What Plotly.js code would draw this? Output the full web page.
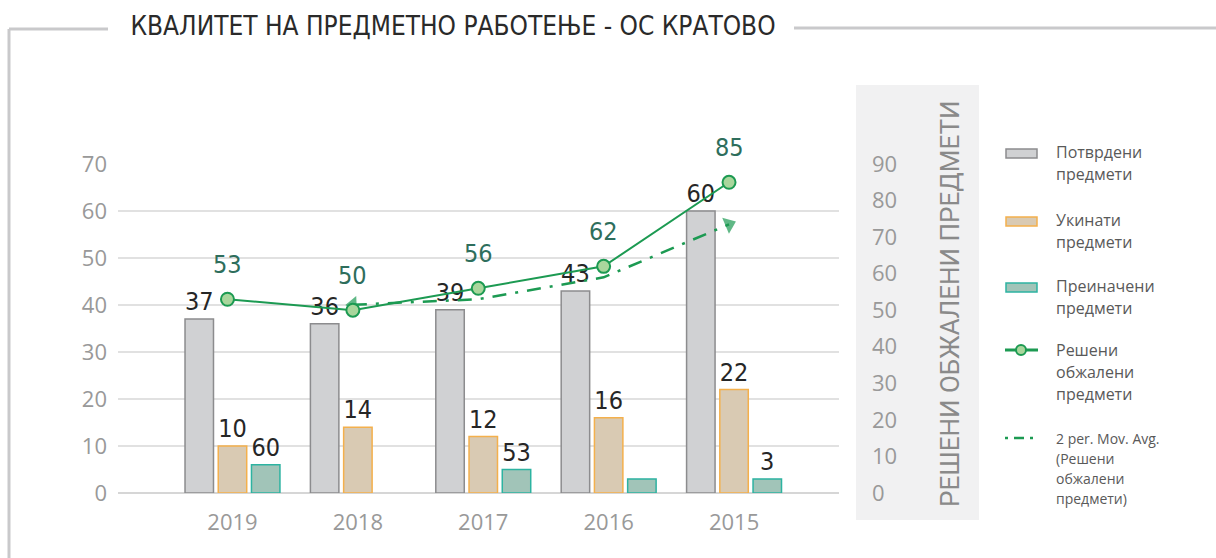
<!DOCTYPE html>
<html><head><meta charset="utf-8">
<script src="https://cdn.plot.ly/plotly-3.0.1.min.js"></script>
<style>html,body{margin:0;padding:0;background:#fff}#chart{width:1216px;height:558px}</style>
</head><body><div id="chart"></div>
<script>
// ---- data ----
const years = ["2019", "2018", "2017", "2016", "2015"];
const potvrdeni = [37, 36, 39, 43, 60];
const ukinati = [10, 14, 12, 16, 22];
const preinacheni = [6, null, 5, 3, 3];
const preinacheniLabels = ["60", "", "53", "", "3"];
const resheni = [53, 50, 56, 62, 85];
const movAvg = [null, 51.5, 53, 59, 73.5];
const leftTicks = [0, 10, 20, 30, 40, 50, 60, 70];
const rightTicks = [0, 10, 20, 30, 40, 50, 60, 70, 80, 90];
const chartTitle = "КВАЛИТЕТ НА ПРЕДМЕТНО РАБОТЕЊЕ - ОС КРАТОВО";
const rightTitle = "РЕШЕНИ ОБЖАЛЕНИ ПРЕДМЕТИ";
const legendNames = [
  ["Потврдени", "предмети"],
  ["Укинати", "предмети"],
  ["Преиначени", "предмети"],
  ["Решени", "обжалени", "предмети"],
  ["2 per. Mov. Avg.", "(Решени", "обжалени", "предмети)"]
];

// ---- styling ----
const NARROW = "Liberation Sans Narrow, DejaVu Sans Condensed, sans-serif";
const SANS = "Open Sans, Noto Sans, sans-serif";
const GREEN = "#1c9a52";
const L = 118, R = 869, GRID_END = 839, T = 164, B = 493;
const X = px => (px - L) / (R - L);
const Y = py => (B - py) / (B - T);
const XD = X(GRID_END);

const barText = {family: NARROW, size: 25, color: "#262626"};

const traces = [
  {type: "bar", x: years, y: potvrdeni, name: legendNames[0].join(" "),
   marker: {color: "#d0d1d3", line: {color: "#8c8c8e", width: 1.5}},
   text: potvrdeni.map(String), textposition: "outside", textfont: barText,
   constraintext: "none", cliponaxis: false, showlegend: false, hoverinfo: "skip"},
  {type: "bar", x: years, y: ukinati, name: legendNames[1].join(" "),
   marker: {color: "#d9cab3", line: {color: "#f4b04c", width: 1.5}},
   text: ukinati.map(String), textposition: "outside", textfont: barText,
   constraintext: "none", cliponaxis: false, showlegend: false, hoverinfo: "skip"},
  {type: "bar", x: years, y: preinacheni, name: legendNames[2].join(" "),
   marker: {color: "#a1c4b8", line: {color: "#2db3a1", width: 1.5}},
   text: preinacheniLabels, textposition: "outside", textfont: barText,
   constraintext: "none", cliponaxis: false, showlegend: false, hoverinfo: "skip"},
  {type: "scatter", mode: "lines", x: years, y: movAvg, xaxis: "x2", yaxis: "y2",
   name: legendNames[4].join(" "),
   line: {color: GREEN, width: 2.5, dash: "14px,9px,3px,9px"},
   cliponaxis: false, showlegend: false, hoverinfo: "skip", connectgaps: false},
  // arrowhead at end
  {type: "scatter", mode: "markers", x: years.slice(3), y: movAvg.slice(3), xaxis: "x2", yaxis: "y2",
   marker: {symbol: "triangle-up", angleref: "previous", size: [0, 15], color: GREEN, line: {width: 0}},
   cliponaxis: false, showlegend: false, hoverinfo: "skip"},
  // arrowhead at start
  {type: "scatter", mode: "markers", x: years.slice(1, 3).reverse(), y: movAvg.slice(1, 3).reverse(), xaxis: "x2", yaxis: "y2",
   marker: {symbol: "triangle-up", angleref: "previous", size: [0, 15], color: GREEN, line: {width: 0}},
   cliponaxis: false, showlegend: false, hoverinfo: "skip"},
  {type: "scatter", mode: "lines+markers", x: years, y: resheni, xaxis: "x2", yaxis: "y2",
   name: legendNames[3].join(" "),
   line: {color: GREEN, width: 2},
   marker: {size: 13, color: "#a9d69c", line: {color: GREEN, width: 2}},
   cliponaxis: false, showlegend: false, hoverinfo: "skip"}
];

const shapes = [
  // grey panel behind right axis
  {type: "rect", xref: "paper", yref: "paper", x0: X(856), x1: X(979), y0: Y(520), y1: Y(85),
   fillcolor: "#f1f1f2", line: {width: 0}, layer: "below"},
  // frame
  {type: "line", xref: "paper", yref: "paper", x0: X(9), x1: X(9), y0: Y(29), y1: Y(570), line: {color: "#c9c9cb", width: 3}},
  {type: "line", xref: "paper", yref: "paper", x0: X(9), x1: X(108), y0: Y(29), y1: Y(29), line: {color: "#c9c9cb", width: 3}},
  {type: "line", xref: "paper", yref: "paper", x0: X(794), x1: X(1220), y0: Y(28), y1: Y(28), line: {color: "#c9c9cb", width: 3}},
  // legend symbols
  {type: "rect", xref: "paper", yref: "paper", x0: X(1006), x1: X(1037), y0: Y(158), y1: Y(149),
   fillcolor: "#d0d1d3", line: {color: "#8c8c8e", width: 1.5}},
  {type: "rect", xref: "paper", yref: "paper", x0: X(1006), x1: X(1037), y0: Y(226), y1: Y(217),
   fillcolor: "#d9cab3", line: {color: "#f4b04c", width: 1.5}},
  {type: "rect", xref: "paper", yref: "paper", x0: X(1006), x1: X(1037), y0: Y(292), y1: Y(283),
   fillcolor: "#a1c4b8", line: {color: "#2db3a1", width: 1.5}},
  {type: "line", xref: "paper", yref: "paper", x0: X(1005), x1: X(1038), y0: Y(350), y1: Y(350),
   line: {color: GREEN, width: 3}},
  {type: "circle", xref: "paper", yref: "paper", x0: X(1016), x1: X(1026), y0: Y(355), y1: Y(345),
   fillcolor: "#a9d69c", line: {color: GREEN, width: 2}},
  {type: "line", xref: "paper", yref: "paper", x0: X(1005), x1: X(1033), y0: Y(438), y1: Y(438),
   line: {color: GREEN, width: 2.5, dash: "3px,6px,10px,6px"}}
];

const annotations = [];
// line data labels (category axes take the category index)
years.forEach((yr, i) => {
  annotations.push({xref: "x2", yref: "y2", x: i, y: resheni[i], yshift: 35, showarrow: false,
    text: String(resheni[i]), font: {family: NARROW, size: 25, color: "#2e6e5c"}});
});
// right axis title
annotations.push({xref: "paper", yref: "paper", x: X(950), y: Y(303), xanchor: "center", yanchor: "middle",
  showarrow: false, textangle: -90, text: rightTitle,
  font: {family: "Roboto, Open Sans, sans-serif", size: 26, color: "#8a8a8a"}});
// legend texts
const legendLineY = [[152, 174], [220, 242], [286, 308], [350, 372, 394], [438, 458, 478, 498]];
legendNames.forEach((lines, k) => {
  lines.forEach((t, j) => {
    annotations.push({xref: "paper", yref: "paper", x: X(1054), y: Y(legendLineY[k][j]),
      xanchor: "left", yanchor: "middle", showarrow: false, text: t,
      font: {family: SANS, size: k === 4 ? 14 : 16, color: "#595959"}});
  });
});

const layout = {
  width: 1216, height: 558,
  margin: {l: L, r: 1216 - R, t: T, b: 558 - B, pad: 0},
  paper_bgcolor: "#fff", plot_bgcolor: "rgba(0,0,0,0)",
  showlegend: false,
  title: {text: chartTitle, xref: "container", yref: "container", x: 453 / 1216, xanchor: "center",
    y: 1 - 26 / 558, yanchor: "middle", font: {family: NARROW, size: 26, color: "#2a2a2a"}},
  barmode: "group", bargap: 0.205, bargroupgap: 0.143,
  xaxis: {type: "category", domain: [0, XD], range: [-0.913, 4.837], showgrid: false, zeroline: false, showline: false,
    ticks: "", tickfont: {family: SANS, size: 22, color: "#999"}, ticklabelstandoff: 14, fixedrange: true},
  xaxis2: {type: "category", domain: [0, XD], overlaying: "x", anchor: "y", range: [-0.873, 4.877], showgrid: false,
    zeroline: false, showline: false, showticklabels: false, ticks: ""},
  yaxis: {range: [0, 70], tickvals: leftTicks, showgrid: true, gridcolor: "#e1e1e1", gridwidth: 1.5,
    zeroline: true, zerolinecolor: "#d6d6d6", zerolinewidth: 2, showline: false, ticks: "",
    tickfont: {family: SANS, size: 22, color: "#999"}, ticklabelstandoff: 10, fixedrange: true},
  yaxis2: {range: [0, 90], tickvals: rightTicks, overlaying: "y", side: "right", anchor: "free",
    position: 1, showgrid: false, zeroline: false, showline: false, ticks: "",
    tickfont: {family: SANS, size: 22, color: "#999"}, ticklabelstandoff: 2, fixedrange: true},
  shapes: shapes,
  annotations: annotations
};

Plotly.newPlot("chart", traces, layout, {displayModeBar: false, staticPlot: true});
</script>
</body></html>
